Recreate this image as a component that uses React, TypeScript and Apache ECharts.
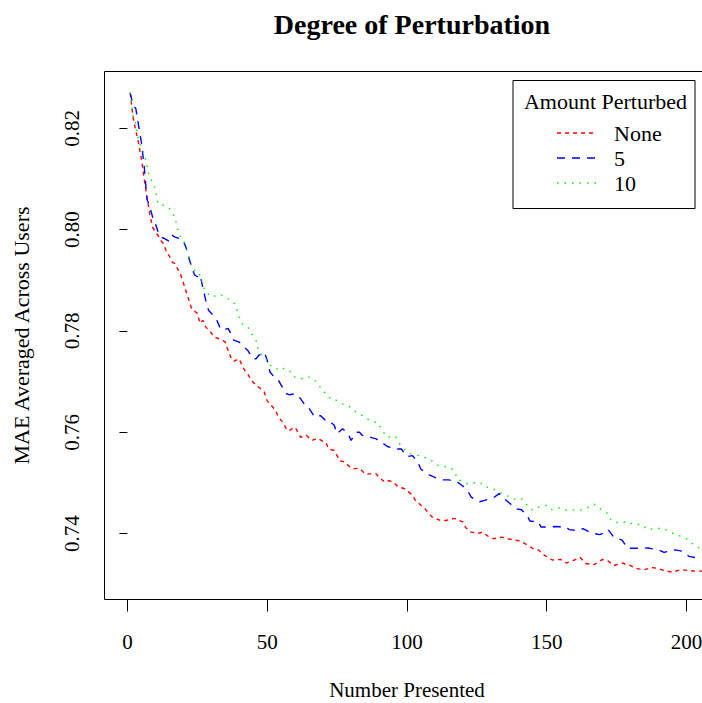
import React, { useEffect, useRef } from "react";
import * as echarts from "echarts";

const TITLE = "Degree of Perturbation";
const X_NAME = "Number Presented";
const Y_NAME = "MAE Averaged Across Users";
const LEGEND_TITLE = "Amount Perturbed";
const SERIES_NAMES = ["None", "5", "10"];
const X_TICKS = [0, 50, 100, 150, 200];
const Y_TICKS = [0.74, 0.76, 0.78, 0.8, 0.82];

const xNone = [1,2,3,4,5,6,7,8,9,10,11,12,13,14,15,16,17,18,19,20,21,22,23,25,26,27,28,30,31,33,34,35,36,37,38,40,41,42,43,44,46,47,49,50,52,53,54,56,57,58,60,61,62,64,66,68,70,71,72,74,75,76,78,79,81,83,85,87,89,90,92,93,95,97,99,100,102,103,105,106,108,109,112,114,117,120,121,123,126,127,129,131,134,136,139,140,142,145,147,149,152,155,157,160,162,164,167,170,172,174,177,180,182,185,188,190,192,195,198,201,203,206];
const yNone = [0.8270,0.8222,0.8195,0.8170,0.8140,0.8100,0.8064,0.8030,0.8005,0.7995,0.7988,0.7978,0.7972,0.7955,0.7948,0.7936,0.7933,0.7922,0.7912,0.7895,0.7878,0.7861,0.7843,0.7835,0.7815,0.7821,0.7808,0.7796,0.7788,0.7784,0.7782,0.7778,0.7762,0.7748,0.7740,0.7745,0.7732,0.7722,0.7716,0.7705,0.7693,0.7689,0.7679,0.7662,0.7650,0.7643,0.7630,0.7617,0.7604,0.7604,0.7610,0.7600,0.7590,0.7594,0.7584,0.7588,0.7582,0.7580,0.7567,0.7564,0.7554,0.7544,0.7541,0.7534,0.7528,0.7529,0.7518,0.7518,0.7518,0.7511,0.7502,0.7505,0.7502,0.7492,0.7489,0.7485,0.7476,0.7466,0.7456,0.7452,0.7439,0.7433,0.7426,0.7426,0.7430,0.7423,0.7412,0.7403,0.7401,0.7403,0.7395,0.7390,0.7393,0.7390,0.7387,0.7386,0.7381,0.7371,0.7368,0.7358,0.7348,0.7349,0.7342,0.7348,0.7353,0.7341,0.7339,0.7349,0.7346,0.7337,0.7342,0.7337,0.7331,0.7329,0.7333,0.7331,0.7327,0.7324,0.7329,0.7327,0.7326,0.7326];

const xFive = [1,2,3,4,5,6,7,8,9,10,11,12,13,15,16,17,19,20,21,22,23,24,25,26,27,28,29,30,31,32,33,34,36,37,38,40,41,43,45,46,47,49,50,51,53,54,55,57,58,60,62,64,65,67,68,69,71,72,74,75,77,79,80,82,83,84,87,89,91,93,96,98,100,102,104,105,108,110,113,115,118,120,122,123,124,126,128,131,133,135,137,139,141,143,144,147,148,151,153,157,158,161,163,166,169,171,172,174,177,179,182,185,187,190,192,196,198,201,203,206];
const yFive = [0.8270,0.8245,0.8239,0.8205,0.8172,0.8125,0.8060,0.8045,0.8025,0.8012,0.7995,0.7985,0.7983,0.7977,0.7989,0.7985,0.7982,0.7978,0.7964,0.7944,0.7925,0.7911,0.7907,0.7911,0.7885,0.7861,0.7841,0.7835,0.7828,0.7821,0.7808,0.7801,0.7805,0.7795,0.7782,0.7778,0.7772,0.7762,0.7745,0.7745,0.7752,0.7758,0.7742,0.7719,0.7706,0.7703,0.7693,0.7676,0.7674,0.7676,0.7666,0.7650,0.7647,0.7630,0.7630,0.7633,0.7623,0.7623,0.7614,0.7597,0.7607,0.7597,0.7584,0.7600,0.7600,0.7594,0.7590,0.7587,0.7580,0.7572,0.7567,0.7567,0.7552,0.7554,0.7540,0.7527,0.7516,0.7511,0.7506,0.7506,0.7502,0.7494,0.7482,0.7472,0.7469,0.7463,0.7466,0.7471,0.7479,0.7468,0.7459,0.7449,0.7447,0.7436,0.7425,0.7423,0.7413,0.7413,0.7414,0.7413,0.7408,0.7406,0.7410,0.7401,0.7398,0.7403,0.7408,0.7393,0.7387,0.7371,0.7371,0.7372,0.7371,0.7368,0.7363,0.7368,0.7366,0.7355,0.7353,0.7352];

const xTen = [1,2,3,4,5,6,7,8,9,10,11,12,13,14,15,17,18,19,20,21,22,23,24,25,26,27,28,30,32,33,35,38,39,40,41,43,44,46,47,49,51,53,54,56,58,59,61,64,65,67,69,70,71,73,75,77,79,81,84,85,87,90,91,93,96,97,99,101,103,106,108,111,113,115,117,118,121,123,126,128,130,133,135,137,139,141,143,145,147,150,152,155,157,160,162,165,167,170,172,173,176,179,181,184,186,189,192,194,197,200,202,204,206];
const yTen = [0.8270,0.8225,0.8209,0.8176,0.8160,0.8150,0.8125,0.8101,0.8095,0.8080,0.8051,0.8048,0.8048,0.8045,0.8042,0.8025,0.8000,0.7985,0.7979,0.7965,0.7945,0.7930,0.7920,0.7910,0.7911,0.7889,0.7877,0.7867,0.7870,0.7872,0.7867,0.7857,0.7844,0.7828,0.7814,0.7809,0.7798,0.7782,0.7758,0.7749,0.7732,0.7729,0.7722,0.7726,0.7722,0.7712,0.7706,0.7706,0.7709,0.7703,0.7689,0.7680,0.7677,0.7664,0.7663,0.7656,0.7653,0.7643,0.7633,0.7629,0.7623,0.7617,0.7604,0.7590,0.7592,0.7580,0.7567,0.7558,0.7556,0.7551,0.7548,0.7535,0.7533,0.7531,0.7525,0.7508,0.7499,0.7499,0.7502,0.7492,0.7491,0.7482,0.7476,0.7472,0.7467,0.7469,0.7456,0.7446,0.7452,0.7456,0.7447,0.7451,0.7446,0.7447,0.7446,0.7452,0.7458,0.7446,0.7439,0.7426,0.7421,0.7424,0.7418,0.7418,0.7408,0.7410,0.7410,0.7403,0.7397,0.7390,0.7381,0.7373,0.7370];

const COLORS = ["#ff0000", "#0000ff", "#00ee00"];
const DASHES: number[][] = [[4, 4], [8, 7], [1.5, 6]];
const FONT = "'Liberation Serif', 'Times New Roman', serif";

export default function App() {
  const ref = useRef<HTMLDivElement>(null);
  useEffect(() => {
    document.body.style.margin = "0";
    const chart = echarts.init(ref.current!, undefined, { renderer: "svg" });
    const xs = [xNone, xFive, xTen];
    const ys = [yNone, yFive, yTen];
    const series = SERIES_NAMES.map((name, i) => ({
      name,
      type: "line",
      data: xs[i].map((x, j) => [x, ys[i][j]]),
      showSymbol: false,
      symbol: "none",
      lineStyle: { color: COLORS[i], width: 1.4, type: DASHES[i] },
      itemStyle: { color: COLORS[i] },
      silent: true,
    }));
    const legendItems: any[] = [];
    SERIES_NAMES.forEach((name, i) => {
      const y = 133 + i * 25;
      legendItems.push({
        type: "line",
        shape: { x1: 557, y1: y, x2: 597, y2: y },
        style: { stroke: COLORS[i], lineWidth: 1.4, lineDash: DASHES[i] },
      });
      legendItems.push({
        type: "text",
        x: 614,
        y,
        style: { text: name, font: `22px ${FONT}`, fill: "#000", textAlign: "left", textVerticalAlign: "middle" },
      });
    });
    chart.setOption({
      animation: false,
      backgroundColor: "#fff",
      title: {
        text: TITLE,
        left: 407,
        top: 5,
        textAlign: "center",
        textStyle: { fontFamily: FONT, fontSize: 28, fontWeight: "bold", color: "#000" },
      },
      grid: {
        left: 104.5,
        top: 71.5,
        bottom: 103.5,
        right: 1.8,
        outerBoundsMode: "none",
        containLabel: false,
        show: true,
        borderColor: "#000",
        borderWidth: 1,
        backgroundColor: "transparent",
      },
      xAxis: {
        type: "value",
        min: -8.2,
        max: 240,
        axisLine: { show: false },
        splitLine: { show: false },
        axisTick: { show: true, customValues: X_TICKS, length: 12, lineStyle: { color: "#000" } },
        axisLabel: {
          customValues: X_TICKS,
          margin: 32,
          fontFamily: FONT,
          fontSize: 21,
          color: "#000",
        },
      },
      yAxis: {
        type: "value",
        min: 0.727,
        max: 0.8312,
        name: Y_NAME,
        nameLocation: "middle",
        nameGap: 72,
        nameRotate: 90,
        nameTextStyle: { fontFamily: FONT, fontSize: 22, color: "#000" },
        axisLine: { show: false },
        splitLine: { show: false },
        axisTick: { show: true, customValues: Y_TICKS, length: 8, lineStyle: { color: "#000" } },
        axisLabel: {
          customValues: Y_TICKS,
          rotate: 90,
          margin: 22,
          fontFamily: FONT,
          fontSize: 21,
          color: "#000",
          formatter: (v: number) => v.toFixed(2),
        },
      },
      graphic: [
        {
          type: "text",
          x: 407,
          y: 690,
          style: { text: X_NAME, font: `21px ${FONT}`, fill: "#000", textAlign: "center", textVerticalAlign: "middle" },
        },
        {
          type: "rect",
          shape: { x: 513, y: 80.5, width: 182, height: 128 },
          style: { fill: "#fff", stroke: "#000", lineWidth: 1 },
          z: 10,
        },
        {
          type: "text",
          x: 605.5,
          y: 101,
          z: 11,
          style: { text: LEGEND_TITLE, font: `22px ${FONT}`, fill: "#000", textAlign: "center", textVerticalAlign: "middle" },
        },
        ...legendItems.map((e) => ({ ...e, z: 11 })),
      ],
      series,
    });
    return () => chart.dispose();
  }, []);
  return (
    <div style={{ width: 702, height: 703, overflow: "hidden", position: "relative" }}>
      <div ref={ref} style={{ width: 800, height: 703 }} />
    </div>
  );
}
